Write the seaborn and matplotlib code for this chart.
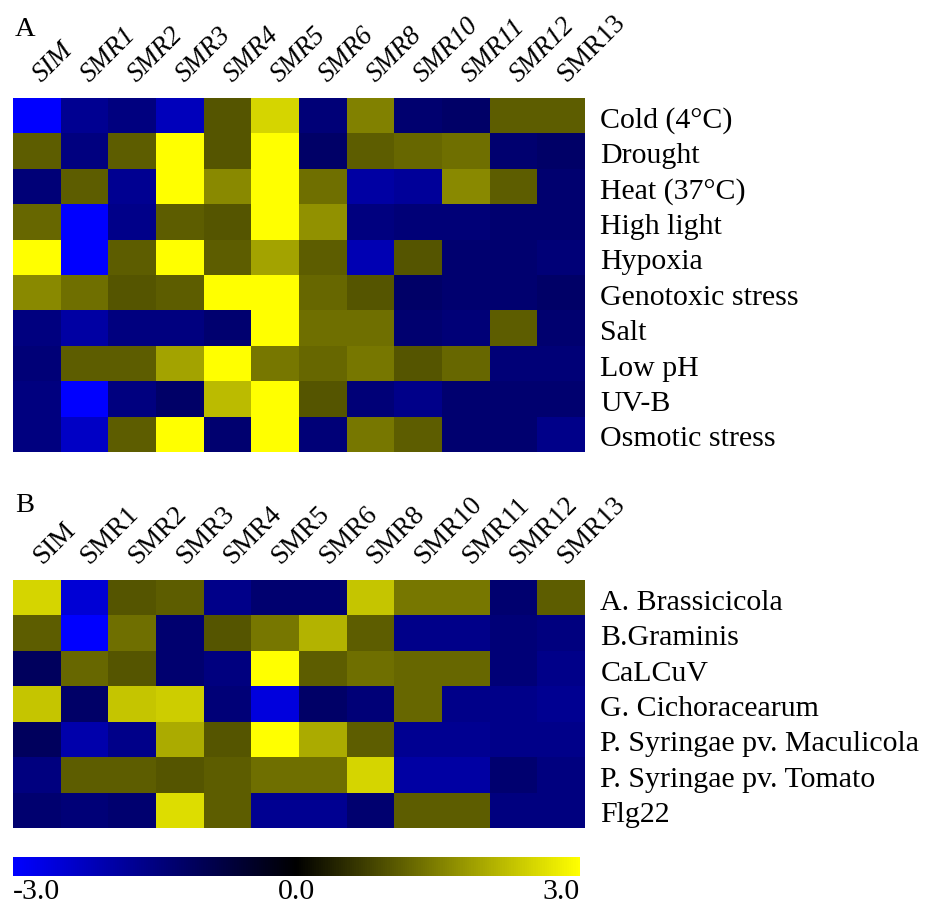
import numpy as np
import pandas as pd
import seaborn as sns
import matplotlib
matplotlib.use("Agg")
import matplotlib.pyplot as plt
import matplotlib.transforms as mtransforms
from matplotlib.colors import LinearSegmentedColormap

genes = ["SIM", "SMR1", "SMR2", "SMR3", "SMR4", "SMR5", "SMR6", "SMR8",
         "SMR10", "SMR11", "SMR12", "SMR13"]

abiotic_rows = ["Cold (4°C)", "Drought", "Heat (37°C)", "High light", "Hypoxia",
                "Genotoxic stress", "Salt", "Low pH", "UV-B", "Osmotic stress"]
abiotic_vals = [
    [-3.0, -1.7, -1.5, -2.2, 1.0, 2.5, -1.4, 1.5, -1.3, -1.2, 1.1, 1.1],
    [1.1, -1.5, 1.1, 3.0, 1.0, 3.0, -1.2, 1.1, 1.2, 1.3, -1.3, -1.2],
    [-1.4, 1.1, -1.7, 3.0, 1.6, 3.0, 1.3, -1.9, -1.8, 1.6, 1.1, -1.3],
    [1.2, -3.0, -1.6, 1.1, 1.0, 3.0, 1.7, -1.5, -1.4, -1.4, -1.3, -1.3],
    [3.0, -3.0, 1.1, 3.0, 1.1, 1.9, 1.1, -2.1, 1.0, -1.3, -1.3, -1.4],
    [1.6, 1.3, 1.0, 1.1, 3.0, 3.0, 1.2, 1.0, -1.2, -1.3, -1.3, -1.2],
    [-1.5, -1.9, -1.5, -1.5, -1.3, 3.0, 1.3, 1.3, -1.3, -1.4, 1.1, -1.3],
    [-1.4, 1.1, 1.1, 1.9, 3.0, 1.4, 1.2, 1.4, 1.0, 1.2, -1.4, -1.4],
    [-1.5, -3.0, -1.5, -1.2, 2.2, 3.0, 1.0, -1.4, -1.6, -1.3, -1.3, -1.3],
    [-1.5, -2.3, 1.1, 3.0, -1.3, 3.0, -1.4, 1.4, 1.1, -1.3, -1.3, -1.6],
]

biotic_rows = ["A. Brassicicola", "B.Graminis", "CaLCuV", "G. Cichoracearum",
               "P. Syringae pv. Maculicola", "P. Syringae pv. Tomato", "Flg22"]
biotic_vals = [
    [2.5, -2.5, 1.0, 1.1, -1.6, -1.3, -1.3, 2.3, 1.4, 1.4, -1.3, 1.1],
    [1.1, -3.0, 1.3, -1.3, 1.0, 1.4, 2.1, 1.1, -1.6, -1.6, -1.4, -1.5],
    [-1.1, 1.2, 1.0, -1.3, -1.5, 3.0, 1.1, 1.3, 1.2, 1.2, -1.4, -1.6],
    [2.3, -1.2, 2.3, 2.4, -1.4, -2.6, -1.2, -1.4, 1.2, -1.6, -1.6, -1.7],
    [-1.1, -2.0, -1.6, 2.0, 1.0, 3.0, 2.0, 1.1, -1.7, -1.7, -1.6, -1.6],
    [-1.5, 1.1, 1.1, 1.0, 1.1, 1.3, 1.3, 2.5, -1.9, -1.9, -1.3, -1.5],
    [-1.3, -1.4, -1.3, 2.6, 1.1, -1.7, -1.7, -1.3, 1.1, 1.1, -1.5, -1.5],
]

cbar_ticks = [-3.0, 0.0, 3.0]
cbar_ticklabels = ["-3.0", "0.0", "3.0"]

W, H = 940, 908
fig = plt.figure(figsize=(W / 100, H / 100), dpi=100)
plt.rcParams['font.family'] = ['Liberation Serif', 'DejaVu Serif']
FS = 21.5
FSX = 19.5

cmap = LinearSegmentedColormap.from_list("byk", ["#0000ff", "#000000", "#ffff00"])

def px(l, t, w, h):
    return [l / W, 1 - (t + h) / H, w / W, h / H]

axA = fig.add_axes(px(13, 98, 572, 354))
axB = fig.add_axes(px(13, 580, 572, 248))
cax = fig.add_axes(px(13, 857, 567, 19))

dfA = pd.DataFrame(abiotic_vals, index=abiotic_rows, columns=genes)
dfB = pd.DataFrame(biotic_vals, index=biotic_rows, columns=genes)

sns.heatmap(dfA, ax=axA, cmap=cmap, vmin=-3, vmax=3, cbar=False)
sns.heatmap(dfB, ax=axB, cmap=cmap, vmin=-3, vmax=3, cbar_ax=cax,
            cbar_kws={"orientation": "horizontal", "ticks": cbar_ticks})

shift = mtransforms.ScaledTranslation(5 / 100, 0, fig.dpi_scale_trans)
yshift = mtransforms.ScaledTranslation(0, -2 / 100, fig.dpi_scale_trans)

for ax, italic in ((axA, True), (axB, False)):
    ax.xaxis.tick_top()
    ax.yaxis.tick_right()
    ax.tick_params(axis="both", length=0)
    ax.tick_params(axis="x", pad=11)
    ax.tick_params(axis="y", pad=11)
    ax.set_xlabel("")
    ax.set_ylabel("")
    labs = [t.get_text() for t in ax.get_xticklabels()]
    ax.set_xticklabels(labs, rotation=45, ha="left", va="baseline",
                       rotation_mode="anchor", fontsize=FSX)
    for i, t in enumerate(ax.get_xticklabels()):
        t.set_transform(t.get_transform() + shift)
        if italic and i < len(genes) - 1:
            t.set_fontstyle("italic")
    ylabs = [t.get_text() for t in ax.get_yticklabels()]
    ax.set_yticklabels(ylabs, rotation=0, ha="left", va="center_baseline",
                       fontsize=FS)
    for t in ax.get_yticklabels():
        t.set_transform(t.get_transform() + yshift)

cax.tick_params(axis="x", length=0, pad=2, labelsize=FS)
cax.set_xticks(cbar_ticks)
cax.set_xticklabels(cbar_ticklabels)
tl = cax.get_xticklabels()
tl[0].set_ha("left")
tl[2].set_ha("right")
for s in cax.spines.values():
    s.set_visible(False)
cb = axB.collections[0].colorbar
if cb is not None:
    cb.outline.set_visible(False)

fig.text(15 / W, 1 - 36 / H, "A", fontsize=FSX + 1, va="baseline", ha="left")
fig.text(15 / W, 1 - 512 / H, "B", fontsize=FSX + 1, va="baseline", ha="left")

fig.savefig("out.png", dpi=100, facecolor="white")
